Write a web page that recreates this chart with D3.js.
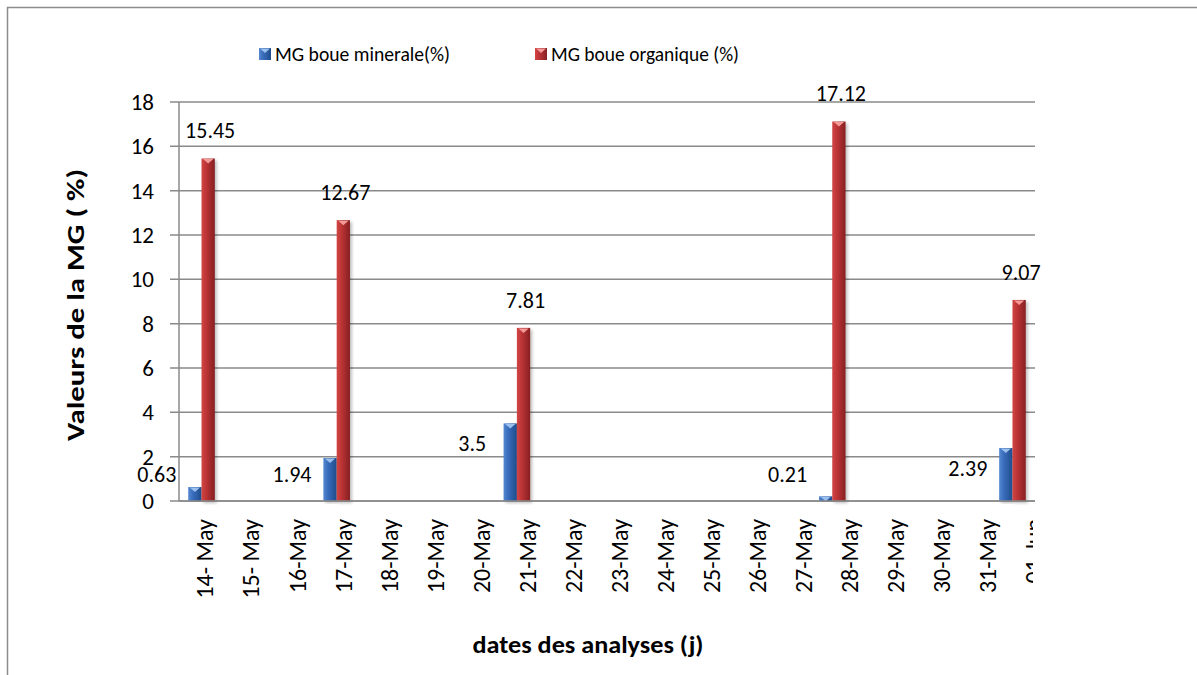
<!DOCTYPE html>
<html>
<head>
<meta charset="utf-8">
<script src="https://cdn.jsdelivr.net/npm/d3@7"></script>
<style>
  html, body { margin: 0; padding: 0; background: #fff; }
  svg { display: block; font-family: Carlito, Calibri, Lato, "Open Sans", sans-serif; }
</style>
</head>
<body>
<svg id="chart" width="1197" height="675"></svg>
<script>
// Analysis dates (day labels on the x axis)
const dates = ["14- May", "15- May", "16-May", "17-May", "18-May", "19-May", "20-May",
  "21-May", "22-May", "23-May", "24-May", "25-May", "26-May", "27-May", "28-May",
  "29-May", "30-May", "31-May", "01-Jun"];

// Fat content (%) per sludge type; null = no analysis that day
const mineral = [0.63, null, null, 1.94, null, null, null, 3.5, null, null, null,
  null, null, null, 0.21, null, null, null, 2.39];
const organic = [15.45, null, null, 12.67, null, null, null, 7.81, null, null, null,
  null, null, null, 17.12, null, null, null, 9.07];

const seriesNames = ["MG boue minerale(%)", "MG boue organique (%)"];
const yTicks = [0, 2, 4, 6, 8, 10, 12, 14, 16, 18];
const yTitle = "Valeurs de la MG ( %)";
const xTitle = "dates des analyses (j)";

const svg = d3.select("#chart");
const defs = svg.append("defs");

// Plot area
const plotL = 179, plotR = 1035, plotT = 102, plotB = 501;

const x = d3.scaleBand().domain(d3.range(dates.length)).range([plotL, plotR]).padding(0);
const xLab = d3.scalePoint().domain(d3.range(dates.length)).range([205, 1034]);
const y = d3.scaleLinear().domain([0, 18]).range([plotB, plotT]);
const barW = 13.3;

// Cylinder-like shading for the bars
function hGrad(id, stops) {
  const g = defs.append("linearGradient").attr("id", id)
    .attr("x1", "0%").attr("x2", "100%").attr("y1", "0%").attr("y2", "0%");
  stops.forEach(([o, c]) => g.append("stop").attr("offset", o).attr("stop-color", c));
}
hGrad("gBlue", [["0%", "#5588d0"], ["35%", "#386cbc"], ["100%", "#204c8a"]]);
hGrad("gRed", [["0%", "#d24644"], ["35%", "#bd3436"], ["100%", "#862022"]]);
defs.append("filter").attr("id", "shadow").attr("x", "-50%").attr("y", "-5%")
  .attr("width", "200%").attr("height", "110%")
  .append("feDropShadow").attr("dx", 2).attr("dy", 2).attr("stdDeviation", 1.5)
  .attr("flood-color", "#000").attr("flood-opacity", 0.25);
defs.append("clipPath").attr("id", "clipLabels")
  .append("rect").attr("x", 0).attr("y", 505).attr("width", 1033).attr("height", 120);

// Outer frame (top and left edges visible)
svg.append("path").attr("d", "M7.5,675 V7.5 H1197")
  .attr("fill", "none").attr("stroke", "#8c8c8c").attr("stroke-width", 1.5);

// Gridlines and y tick marks
const grid = svg.append("g");
yTicks.forEach(t => {
  grid.append("line")
    .attr("x1", plotL - 9).attr("x2", plotR)
    .attr("y1", y(t)).attr("y2", y(t))
    .attr("stroke", "#8a8a8a").attr("stroke-width", 1.5);
});
// y axis line
svg.append("line").attr("x1", plotL).attr("x2", plotL).attr("y1", plotT).attr("y2", plotB)
  .attr("stroke", "#8a8a8a").attr("stroke-width", 1.5);

// y tick labels
svg.append("g").selectAll("text").data(yTicks).join("text")
  .attr("x", 154).attr("y", d => y(d)).attr("dy", "0.35em")
  .attr("text-anchor", "end").attr("font-size", 23).attr("fill", "#000")
  .text(d => d);

// Bars
function drawSeries(values, offset, fill, capColor) {
  const g = svg.append("g");
  const pts = values.map((v, i) => ({ v, i })).filter(d => d.v !== null);
  g.selectAll("rect").data(pts).join("rect")
    .attr("x", d => x(d.i) + x.bandwidth() / 2 + offset)
    .attr("y", d => y(d.v))
    .attr("width", barW)
    .attr("height", d => y(0) - y(d.v))
    .attr("fill", `url(#${fill})`)
    .attr("filter", "url(#shadow)");
  // small highlight wedge on the top face
  g.selectAll("path").data(pts).join("path")
    .attr("d", d => {
      const x0 = x(d.i) + x.bandwidth() / 2 + offset;
      const y0 = y(d.v);
      return `M${x0 + 1.5},${y0 + 0.5} L${x0 + barW - 1.5},${y0 + 0.5} L${x0 + barW / 2},${y0 + 5} Z`;
    })
    .attr("fill", capColor);
  return pts;
}
const minPts = drawSeries(mineral, -barW, "gBlue", "#9cc0ee");
const orgPts = drawSeries(organic, 0, "gRed", "#f39a98");

// Data labels
svg.append("g").selectAll("text").data(minPts).join("text")
  .attr("x", d => x(d.i) + x.bandwidth() / 2 - barW / 2 - 38)
  .attr("y", d => Math.min(y(d.v) + 20, y(0) - 27))
  .attr("dy", "0.35em").attr("text-anchor", "middle")
  .attr("font-size", 22).attr("fill", "#000")
  .text(d => d.v);
svg.append("g").selectAll("text").data(orgPts).join("text")
  .attr("x", d => x(d.i) + x.bandwidth() / 2 + barW / 2 + 2)
  .attr("y", d => y(d.v) - 28)
  .attr("dy", "0.35em").attr("text-anchor", "middle")
  .attr("font-size", 22).attr("fill", "#000")
  .text(d => d.v);

// x axis line
svg.append("line").attr("x1", plotL).attr("x2", plotR).attr("y1", plotB).attr("y2", plotB)
  .attr("stroke", "#8a8a8a").attr("stroke-width", 1.5);

// x tick labels, rotated
svg.append("g").attr("clip-path", "url(#clipLabels)")
  .selectAll("text").data(dates).join("text")
  .attr("transform", (d, i) => `translate(${xLab(i)},519) rotate(-90)`)
  .attr("dy", "0.35em").attr("text-anchor", "end")
  .attr("font-size", 24).attr("fill", "#000")
  .text(d => d);

// Axis titles
svg.append("text")
  .attr("transform", "translate(75,305) rotate(-90)")
  .attr("dy", "0.35em").attr("text-anchor", "middle")
  .attr("font-size", 25).attr("font-weight", "bold").attr("fill", "#000")
  .attr("textLength", 272).attr("lengthAdjust", "spacingAndGlyphs")
  .text(yTitle);
svg.append("text")
  .attr("x", 588).attr("y", 645).attr("dy", "0.35em").attr("text-anchor", "middle")
  .attr("font-size", 24).attr("font-weight", "bold").attr("fill", "#000")
  .attr("textLength", 231).attr("lengthAdjust", "spacingAndGlyphs")
  .text(xTitle);

// Legend
const legendItems = [
  { name: seriesNames[0], fill: "gBlue", cap: "#9cc0ee", x: 259, len: 175 },
  { name: seriesNames[1], fill: "gRed", cap: "#f39a98", x: 535, len: 188 }
];
const lg = svg.append("g").selectAll("g").data(legendItems).join("g")
  .attr("transform", d => `translate(${d.x},48)`);
lg.append("rect").attr("width", 12).attr("height", 12).attr("fill", d => `url(#${d.fill})`);
lg.append("path").attr("d", "M1,0.5 L11,0.5 L6,5 Z").attr("fill", d => d.cap);
lg.append("text").attr("x", 16).attr("y", 6).attr("dy", "0.35em")
  .attr("font-size", 21).attr("fill", "#000")
  .attr("textLength", d => d.len).attr("lengthAdjust", "spacingAndGlyphs")
  .text(d => d.name);
</script>
</body>
</html>
